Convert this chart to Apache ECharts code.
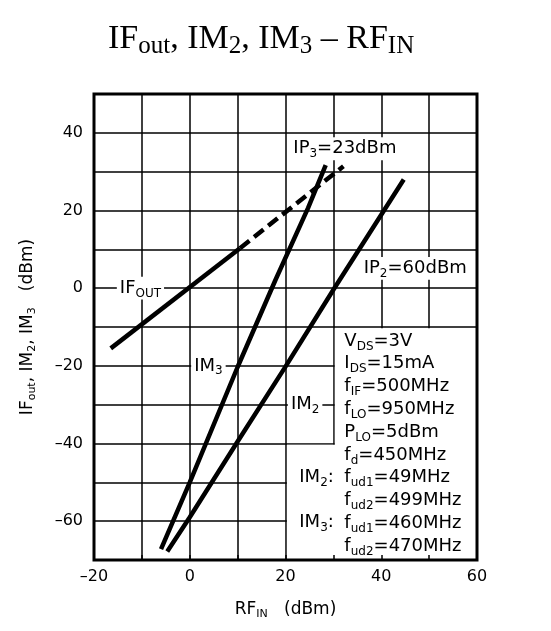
<!DOCTYPE html>
<html>
<head>
<meta charset="utf-8">
<script src="https://cdn.jsdelivr.net/npm/echarts@6/dist/echarts.min.js"></script>
<style>
  html, body { margin: 0; padding: 0; background: #fff; }
  #chart { width: 551px; height: 631px; }
</style>
</head>
<body>
<div id="chart"></div>
<script>
// 轴范围与刻度
const xMin = -20, xMax = 60, xStep = 10
const yMin = -70, yMax = 50, yStep = 10

// IFout：实测段 + 外推虚线段
const ifoutX = [-16.5, 10.5]
const ifoutY = [-15.5, 10.3]
const ifoutExtX = [10.5, 32.1]
const ifoutExtY = [10.3, 31.4]

// IM3
const im3X = [-6, 0, 10, 17.9, 24.7, 28.4]
const im3Y = [-67.2, -50, -20.3, 2.1, 20.6, 31.7]

// IM2
const im2X = [-4.7, 0, 10, 20, 30, 44.7]
const im2Y = [-67.8, -59, -39.5, -20.2, -0.4, 28]

// 测试条件
const condLines = [
  '{b|V}{s|DS}{b|=3V}',
  '{b|I}{s|DS}{b|=15mA}',
  '{b|f}{s|IF}{b|=500MHz}',
  '{b|f}{s|LO}{b|=950MHz}',
  '{b|P}{s|LO}{b|=5dBm}',
  '{b|f}{s|d}{b|=450MHz}',
  '{b|f}{s|ud1}{b|=49MHz}',
  '{b|f}{s|ud2}{b|=499MHz}',
  '{b|f}{s|ud1}{b|=460MHz}',
  '{b|f}{s|ud2}{b|=470MHz}'
]

const zip = (xs, ys) => xs.map((x, i) => [x, ys[i]])
const SANS = 'DejaVu Sans'

const rich = {
  b: { fontFamily: SANS, fontSize: 18, color: '#000', lineHeight: 22.8 },
  s: { fontFamily: SANS, fontSize: 12, color: '#000', lineHeight: 19, verticalAlign: 'bottom' }
}

// 图上的文字标注（数据坐标）
const note = (coord, text, pos, bg) => ({
  coord,
  symbol: 'circle',
  symbolSize: 1,
  itemStyle: { color: 'rgba(0,0,0,0)' },
  label: {
    show: true,
    formatter: text,
    position: pos || 'inside',
    distance: 0,
    color: '#000',
    textBorderWidth: 0,
    backgroundColor: bg === false ? 'transparent' : '#fff',
    padding: bg === false ? 0 : [0, 3],
    rich
  }
})

const lineStyle = { color: '#000', width: 4.5 }

const chart = echarts.init(document.getElementById('chart'), null, { renderer: 'canvas' })

const tickFmt = (v) => (v % 20 === 0 ? (v < 0 ? '\u2013' + Math.abs(v) : String(v)) : '')

const nameRich = {
  a: { fontFamily: SANS, fontSize: 17, color: '#000', lineHeight: 20 },
  c: { fontFamily: SANS, fontSize: 11, color: '#000', lineHeight: 16, verticalAlign: 'bottom' }
}

chart.setOption({
  animation: false,
  backgroundColor: '#fff',
  title: {
    text: '{m|IF}{u|out}{m|, IM}{u|2}{m|, IM}{u|3}{m| \u2013 RF}{u|IN}',
    left: 108,
    top: 19,
    padding: 0,
    textStyle: {
      fontWeight: 'normal',
      rich: {
        m: { fontFamily: 'Liberation Serif', fontWeight: 'normal', fontSize: 34, color: '#000', lineHeight: 40 },
        u: { fontFamily: 'Liberation Serif', fontWeight: 'normal', fontSize: 25, color: '#000', lineHeight: 32, verticalAlign: 'bottom' }
      }
    }
  },
  grid: {
    left: 94, right: 74, top: 94, bottom: 71,
    show: true, z: 10,
    backgroundColor: 'transparent',
    borderColor: '#000', borderWidth: 3
  },
  xAxis: [
    {
      type: 'value', min: xMin, max: xMax, interval: xStep,
      axisLine: { show: false }, axisTick: { show: false }, axisLabel: { show: false },
      splitLine: { show: true, lineStyle: { color: '#000', width: 1.5 } }
    },
    {
      type: 'value', min: xMin, max: xMax, interval: xStep, position: 'bottom', z: 10,
      axisLine: { show: false },
      axisTick: { show: true, inside: true, length: 5, lineStyle: { color: '#000', width: 1.5 } },
      splitLine: { show: false },
      axisLabel: { fontFamily: SANS, fontSize: 16, color: '#000', margin: 9, formatter: tickFmt },
      name: '{a|RF}{c|IN}{a|   (dBm)}',
      nameLocation: 'middle', nameGap: 40,
      nameTextStyle: { rich: nameRich }
    }
  ],
  yAxis: {
    type: 'value', min: yMin, max: yMax, interval: yStep,
    axisLine: { show: false }, axisTick: { show: false },
    splitLine: { show: true, lineStyle: { color: '#000', width: 1.5 } },
    axisLabel: { fontFamily: SANS, fontSize: 16, color: '#000', margin: 11, formatter: tickFmt },
    name: '{a|IF}{c|out}{a|, IM}{c|2}{a|, IM}{c|3}{a|   (dBm)}',
    nameLocation: 'middle', nameGap: 56, nameRotate: 90,
    nameTextStyle: { rich: nameRich }
  },
  series: [
    {
      // 条件说明框（遮住网格）
      type: 'line', data: [], silent: true,
      markArea: {
        silent: true,
        itemStyle: { color: '#fff', borderWidth: 0 },
        label: { show: false },
        data: [
          [{ coord: [30.3, -10.3] }, { coord: [60, -70] }],
          [{ coord: [20.3, -40.3] }, { coord: [60, -70] }]
        ]
      },
      markPoint: {
        silent: true,
        data: [
          note([32.4, -10.8], condLines.join('\n'), [0, 0], false),
          note([30.2, -48.8], '{b|IM}{s|2}{b|:}', 'left', false),
          note([30.2, -60.4], '{b|IM}{s|3}{b|:}', 'left', false),
          note([-10.3, 0], '{b|IF}{s|OUT}'),
          note([3.9, -20], '{b|IM}{s|3}'),
          note([24.1, -30], '{b|IM}{s|2}'),
          note([32.4, 35.9], '{b|IP}{s|3}{b|=23dBm}'),
          note([47.1, 5.1], '{b|IP}{s|2}{b|=60dBm}')
        ]
      }
    },
    { name: 'IFout', type: 'line', data: zip(ifoutX, ifoutY), showSymbol: false, lineStyle },
    { name: 'IFout ext', type: 'line', data: zip(ifoutExtX, ifoutExtY), showSymbol: false,
      lineStyle: { color: '#000', width: 4.5, type: [12, 6] } },
    { name: 'IM3', type: 'line', data: zip(im3X, im3Y), showSymbol: false, lineStyle },
    { name: 'IM2', type: 'line', data: zip(im2X, im2Y), showSymbol: false, lineStyle }
  ]
})
</script>
</body>
</html>
